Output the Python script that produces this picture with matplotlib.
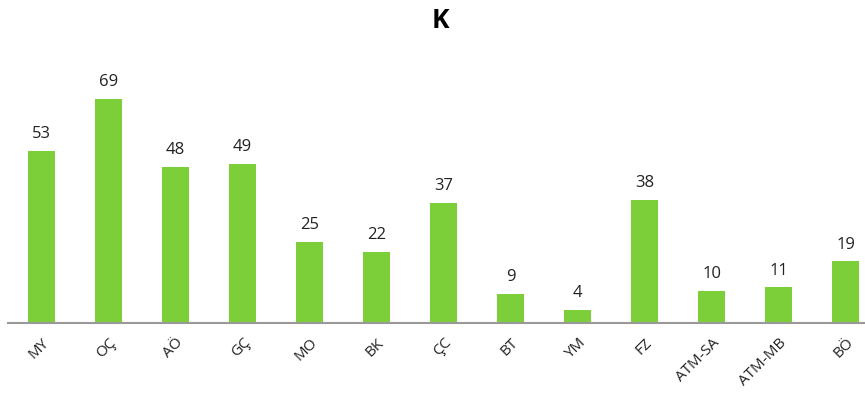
import matplotlib.pyplot as plt

categories = ['MY', 'OÇ', 'AÖ', 'GÇ', 'MO', 'BK', 'ÇC', 'BT', 'YM', 'FZ', 'ATM-SA', 'ATM-MB', 'BÖ']
values = [53, 69, 48, 49, 25, 22, 37, 9, 4, 38, 10, 11, 19]

plt.rcParams['font.family'] = ['Open Sans', 'DejaVu Sans']

fig = plt.figure(figsize=(8.65, 4.1), dpi=100)
ax = fig.add_axes([8 / 865, 86 / 410, 857 / 865, 284 / 410])

x = range(len(categories))
bars = ax.bar(x, values, width=0.4, color='#7DCF3A')

for xi, v in zip(x, values):
    ax.annotate(str(v), (xi, v), xytext=(0, 7), textcoords='offset points',
                ha='center', va='bottom', fontsize=12, color='#222222')

ax.set_xlim(-0.5, 12.29)
ax.set_ylim(0, 87.5)
ax.set_xticks(list(x))
ax.set_xticklabels(categories, rotation=45, ha='right', rotation_mode='anchor',
                   fontsize=11, color='#222222')
ax.tick_params(axis='x', length=0, pad=8)
ax.set_yticks([])
for side in ['top', 'right', 'left']:
    ax.spines[side].set_visible(False)
ax.spines['bottom'].set_color('#999999')
ax.spines['bottom'].set_linewidth(1.5)

fig.text(0.509, 0.95, 'K', ha='center', va='center', fontsize=19, fontweight='bold')

fig.savefig('out.png', dpi=100)
